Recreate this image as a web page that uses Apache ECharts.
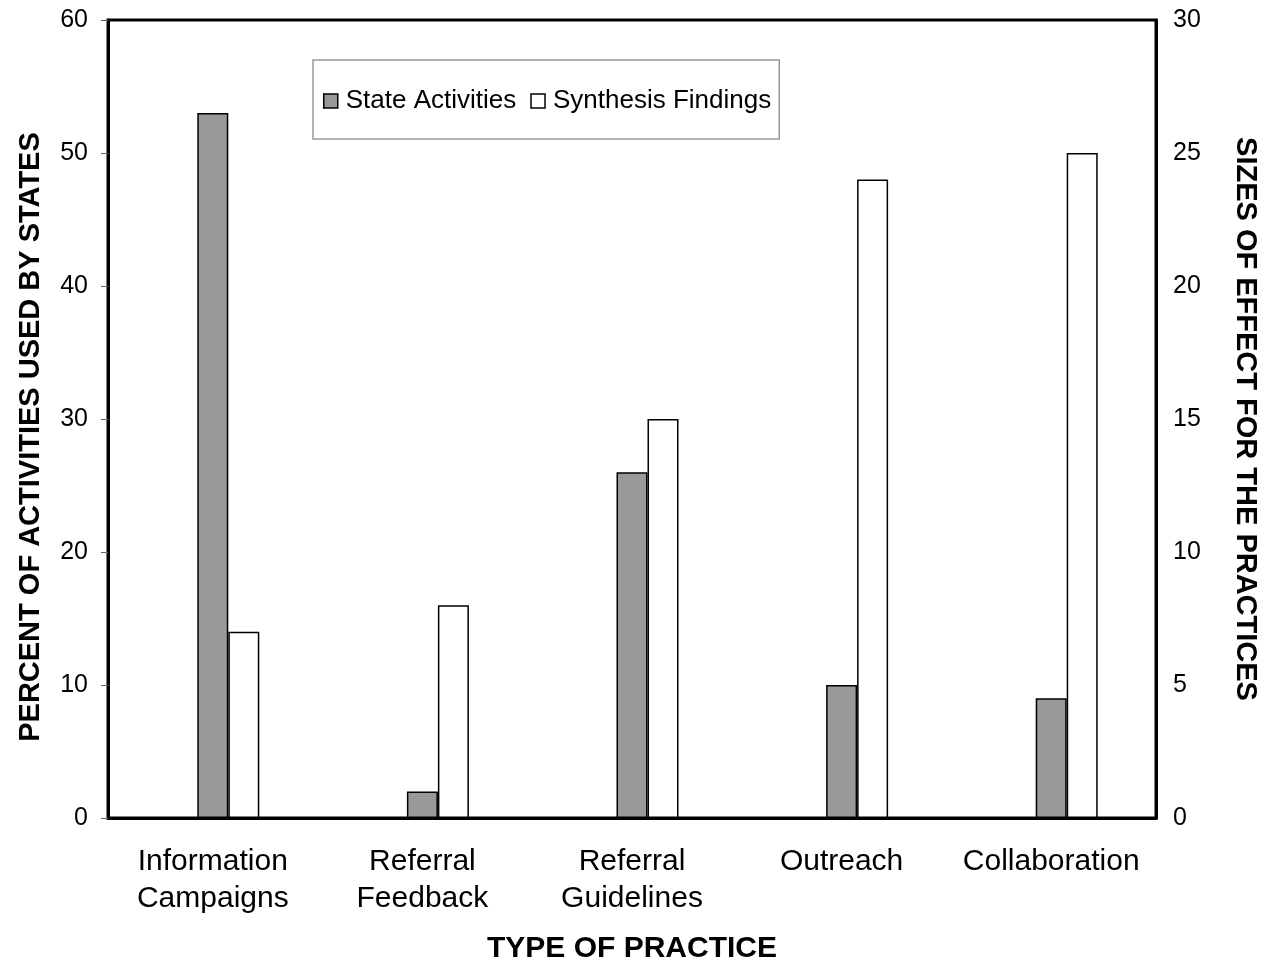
<!DOCTYPE html>
<html>
<head>
<meta charset="utf-8">
<script src="https://cdn.jsdelivr.net/npm/echarts@6/dist/echarts.min.js"></script>
<style>
html, body { margin: 0; padding: 0; background: #fff; }
#chart { width: 1269px; height: 965px; }
</style>
</head>
<body>
<div id="chart"></div>
<script>
// data
var practices = ['Information\nCampaigns', 'Referral\nFeedback', 'Referral\nGuidelines', 'Outreach', 'Collaboration']
var stateActivities = [53, 2, 26, 10, 9]      // left axis, percent
var synthesisFindings = [7, 8, 15, 24, 25]    // right axis, effect size
var leftTicks = [0, 10, 20, 30, 40, 50, 60]
var rightTicks = [0, 5, 10, 15, 20, 25, 30]

var font = 'Liberation Sans, Arial, sans-serif'
var chart = echarts.init(document.getElementById('chart'))

chart.setOption({
    animation: false,
    backgroundColor: '#fff',
    textStyle: { fontFamily: font },
    grid: {
        left: 108, right: 113, top: 20, bottom: 147,
        outerBoundsMode: 'none',
        show: true, borderColor: '#000', borderWidth: 3
    },
    legend: {
        data: ['State Activities', 'Synthesis Findings'],
        icon: 'rect',
        left: 313,
        top: 60,
        padding: [28, 8, 25, 10],
        itemGap: 14,
        itemWidth: 14,
        itemHeight: 14,
        borderColor: '#999',
        borderWidth: 1.5,
        backgroundColor: '#fff',
        itemStyle: { borderColor: '#000', borderWidth: 1.5 },
        textStyle: { fontSize: 26, color: '#000', fontFamily: font, padding: [0, 0, 0, 3] }
    },
    xAxis: {
        type: 'category',
        data: practices,
        name: 'TYPE OF PRACTICE',
        nameLocation: 'middle',
        nameGap: 116,
        nameTextStyle: { fontSize: 30, fontWeight: 'bold', color: '#000' },
        axisLine: { lineStyle: { color: '#000', width: 3 } },
        axisTick: { show: false },
        axisLabel: { interval: 0, fontSize: 30, color: '#000', lineHeight: 37, margin: 25 }
    },
    yAxis: [{
        type: 'value',
        min: leftTicks[0],
        max: leftTicks[leftTicks.length - 1],
        interval: leftTicks[1] - leftTicks[0],
        position: 'left',
        name: 'PERCENT OF ACTIVITIES USED BY STATES',
        nameLocation: 'middle',
        nameRotate: 90,
        nameGap: 63,
        nameTextStyle: { fontSize: 29, fontWeight: 'bold', color: '#000', padding: [0, 36, 0, 0] },
        axisLine: { show: true, lineStyle: { color: '#000', width: 3 } },
        axisTick: { show: true, length: 7, lineStyle: { color: '#666', width: 1 } },
        axisLabel: { fontSize: 25, color: '#000', margin: 20 },
        splitLine: { show: false }
    }, {
        type: 'value',
        min: rightTicks[0],
        max: rightTicks[rightTicks.length - 1],
        interval: rightTicks[1] - rightTicks[0],
        position: 'right',
        name: 'SIZES OF EFFECT FOR THE PRACTICES',
        nameLocation: 'middle',
        nameRotate: -90,
        nameGap: 74,
        nameTextStyle: { fontSize: 29, fontWeight: 'bold', color: '#000' },
        axisLine: { show: true, lineStyle: { color: '#000', width: 3 } },
        axisTick: { show: false },
        axisLabel: { fontSize: 25, color: '#000', margin: 17 },
        splitLine: { show: false }
    }],
    series: [{
        // empty slot so the grey bar sits on the category centre
        name: 'spacer',
        type: 'bar',
        data: [],
        barWidth: 31,
        barGap: 0
    }, {
        name: 'State Activities',
        type: 'bar',
        yAxisIndex: 0,
        data: stateActivities,
        barWidth: 31,
        barGap: 0,
        itemStyle: { color: '#999999', borderColor: '#000', borderWidth: 1.5 }
    }, {
        name: 'Synthesis Findings',
        type: 'bar',
        yAxisIndex: 1,
        data: synthesisFindings,
        barWidth: 31,
        barGap: 0,
        itemStyle: { color: '#fff', borderColor: '#000', borderWidth: 1.5 }
    }]
})
</script>
</body>
</html>
